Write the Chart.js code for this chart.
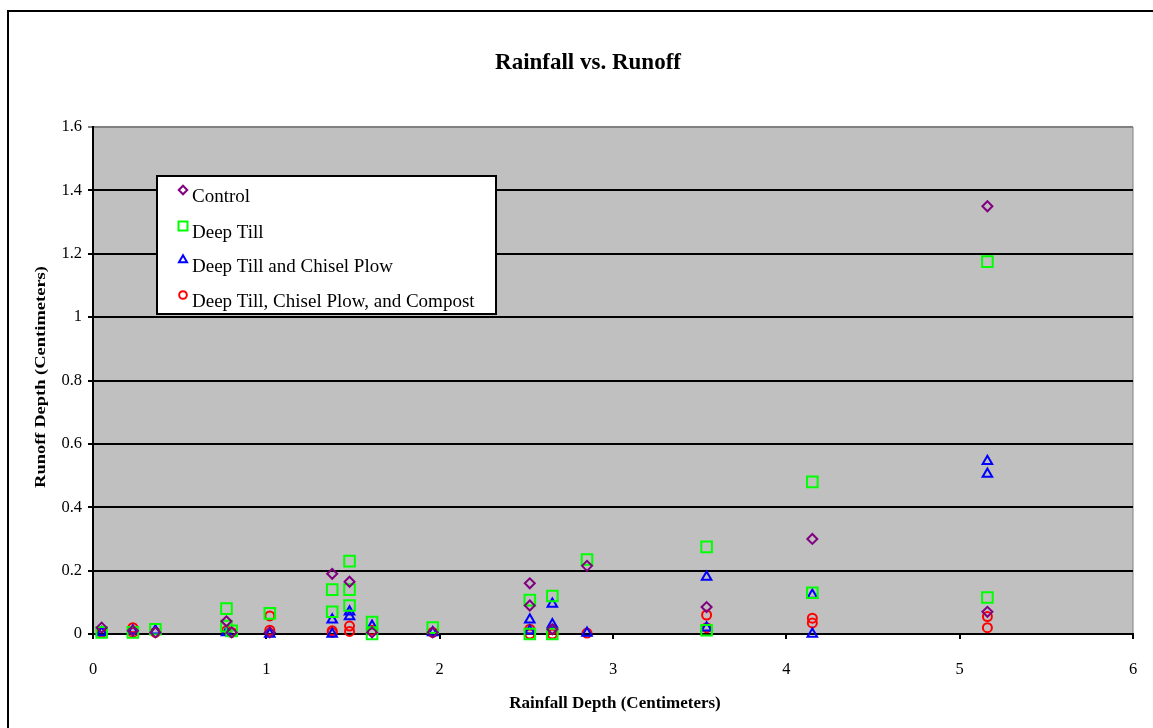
<!DOCTYPE html>
<html>
<head>
<meta charset="utf-8">
<script src="https://cdn.jsdelivr.net/npm/chart.js@4.4.1/dist/chart.umd.min.js"></script>
<style>
  html, body { margin: 0; padding: 0; background: #fff; }
  #wrap { width: 1153px; height: 728px; }
</style>
</head>
<body>
<div id="wrap"><canvas id="runoffChart" width="1153" height="728"></canvas></div>
<script>
// values (rainfall cm, runoff cm)
var controlRain = [0.05, 0.23, 0.36, 0.77, 0.8, 1.02, 1.38, 1.48, 1.61, 1.96, 2.52, 2.52, 2.65, 2.85, 3.54, 4.15, 5.16, 5.16];
var controlRunoff = [0.02, 0.01, 0.005, 0.04, 0.005, 0.005, 0.19, 0.165, 0.005, 0.005, 0.16, 0.09, 0.015, 0.215, 0.085, 0.30, 1.35, 0.07];

var deepTillRain = [0.05, 0.23, 0.36, 0.77, 0.77, 0.8, 1.02, 1.38, 1.38, 1.48, 1.48, 1.48, 1.61, 1.61, 1.96, 2.52, 2.52, 2.65, 2.65, 2.85, 3.54, 3.54, 4.15, 4.15, 5.16, 5.16];
var deepTillRunoff = [0.005, 0.005, 0.015, 0.08, 0.025, 0.01, 0.065, 0.14, 0.07, 0.23, 0.14, 0.09, 0.038, 0, 0.02, 0.107, 0, 0.12, 0, 0.235, 0.275, 0.012, 0.48, 0.13, 1.175, 0.115];

var chiselRain = [0.05, 0.23, 0.36, 0.77, 1.02, 1.38, 1.38, 1.48, 1.48, 1.61, 1.96, 2.52, 2.52, 2.65, 2.65, 2.85, 3.54, 3.54, 4.15, 4.15, 5.16, 5.16];
var chiselRunoff = [0.005, 0.01, 0.01, 0.005, 0, 0.045, 0, 0.07, 0.055, 0.025, 0.005, 0.045, 0.01, 0.095, 0.03, 0.003, 0.18, 0.02, 0.123, 0, 0.545, 0.505];

var compostRain = [0.05, 0.23, 0.23, 0.36, 0.77, 0.8, 1.02, 1.02, 1.38, 1.38, 1.48, 1.48, 1.61, 1.96, 2.52, 2.52, 2.65, 2.65, 2.85, 3.54, 3.54, 4.15, 4.15, 5.16, 5.16];
var compostRunoff = [0.005, 0.02, 0.005, 0.005, 0.01, 0.005, 0.057, 0.012, 0.01, 0.005, 0.025, 0.008, 0.012, 0.005, 0.015, 0, 0.015, 0, 0.003, 0.06, 0.02, 0.05, 0.035, 0.055, 0.02];

var seriesNames = ['Control', 'Deep Till', 'Deep Till and Chisel Plow', 'Deep Till, Chisel Plow, and Compost'];
var seriesColors = ['#800080', '#00ff00', '#0000ff', '#ff0000'];
var seriesShapes = ['rectRot', 'rect', 'triangle', 'circle'];
var seriesRadius = [5, 7.5, 5.5, 4.5];

var yTicks = [0, 0.2, 0.4, 0.6, 0.8, 1, 1.2, 1.4, 1.6];
var xTicks = [0, 1, 2, 3, 4, 5, 6];

var serif = '"Liberation Serif", "Times New Roman", serif';

function toPoints(xs, ys) {
    var pts = [];
    for (var i = 0; i < xs.length; i++) {
        pts.push({x: xs[i], y: ys[i]});
    }
    return pts;
}

var allRain = [controlRain, deepTillRain, chiselRain, compostRain];
var allRunoff = [controlRunoff, deepTillRunoff, chiselRunoff, compostRunoff];

var datasets = [];
for (var s = 0; s < seriesNames.length; s++) {
    datasets.push({
        label: seriesNames[s],
        data: toPoints(allRain[s], allRunoff[s]),
        pointStyle: seriesShapes[s],
        pointRadius: seriesRadius[s],
        pointHoverRadius: seriesRadius[s],
        borderColor: seriesColors[s],
        backgroundColor: 'rgba(0,0,0,0)',
        pointBorderWidth: 2,
        clip: false
    });
}

var frame = {
    id: 'frame',
    beforeDraw: function (chart) {
        var ctx = chart.ctx;
        var a = chart.chartArea;
        ctx.save();
        ctx.fillStyle = '#fff';
        ctx.fillRect(0, 0, chart.width, chart.height);
        ctx.strokeStyle = '#000';
        ctx.lineWidth = 2;
        ctx.strokeRect(8, 11, 1200, 800);
        ctx.fillStyle = '#c0c0c0';
        ctx.fillRect(a.left, a.top, a.right - a.left, a.bottom - a.top);
        ctx.strokeStyle = '#808080';
        ctx.lineWidth = 1;
        ctx.strokeRect(a.left, a.top + 0.5, a.right - a.left, a.bottom - a.top);
        ctx.restore();
    },
    afterDraw: function (chart) {
        var ctx = chart.ctx;
        ctx.save();
        ctx.fillStyle = '#000';
        ctx.textAlign = 'center';
        ctx.textBaseline = 'middle';
        ctx.font = 'bold 23px ' + serif;
        ctx.fillText('Rainfall vs. Runoff', 588, 63);
        ctx.font = 'bold 17px ' + serif;
        ctx.fillText('Rainfall Depth (Centimeters)', 615, 704);

        // squashed y title like the original
        ctx.save();
        ctx.translate(41, 377);
        ctx.rotate(-Math.PI / 2);
        ctx.scale(1, 0.8);
        ctx.font = 'bold 18.5px ' + serif;
        ctx.fillText('Runoff Depth (Centimeters)', 0, 0);
        ctx.restore();

        // legend box
        ctx.fillStyle = '#fff';
        ctx.fillRect(156, 175, 341, 140);
        ctx.strokeStyle = '#000';
        ctx.lineWidth = 2;
        ctx.strokeRect(157, 176, 339, 138);
        var rows = [197, 233, 267, 302];
        ctx.textAlign = 'left';
        ctx.font = '19px ' + serif;
        for (var i = 0; i < seriesNames.length; i++) {
            ctx.strokeStyle = seriesColors[i];
            ctx.fillStyle = 'rgba(0,0,0,0)';
            ctx.lineWidth = 2;
            Chart.helpers.drawPoint(ctx, {
                pointStyle: seriesShapes[i],
                radius: seriesRadius[i] * 0.85,
                borderWidth: 2,
                rotation: 0
            }, 183, rows[i] - 7);
            ctx.fillStyle = '#000';
            ctx.fillText(seriesNames[i], 192, rows[i]);
        }
        ctx.restore();
    }
};

new Chart(document.getElementById('runoffChart'), {
    type: 'scatter',
    data: {datasets: datasets},
    options: {
        responsive: false,
        devicePixelRatio: 1,
        animation: false,
        events: [],
        layout: {padding: {top: 127, right: 20, left: 0, bottom: 0}},
        plugins: {
            legend: {display: false},
            tooltip: {enabled: false}
        },
        scales: {
            x: {
                type: 'linear',
                min: 0,
                max: 6,
                afterBuildTicks: function (scale) {
                    scale.ticks = xTicks.map(function (v) { return {value: v}; });
                },
                afterFit: function (scale) {
                    scale.height = 94;
                    scale.paddingLeft = 0;
                    scale.paddingRight = 0;
                },
                grid: {drawOnChartArea: false, drawTicks: true, tickLength: 5, color: '#000', lineWidth: 2},
                border: {color: '#000', width: 2},
                ticks: {color: '#000', padding: 21, maxRotation: 0, font: {family: serif, size: 16.5}}
            },
            y: {
                type: 'linear',
                min: 0,
                max: 1.6,
                afterBuildTicks: function (scale) {
                    scale.ticks = yTicks.map(function (v) { return {value: v}; });
                },
                afterFit: function (scale) {
                    scale.width = 93;
                    scale.paddingTop = 0;
                    scale.paddingBottom = 0;
                },
                grid: {
                    drawTicks: true,
                    tickLength: 5,
                    lineWidth: 2,
                    color: function (c) {
                        if (c.tick && c.tick.value === 1.6) return '#808080';
                        return '#000';
                    }
                },
                border: {color: '#000', width: 2},
                ticks: {
                    color: '#000',
                    padding: 6,
                    font: {family: serif, size: 16.5},
                    callback: function (v) { return String(Number(v.toFixed(1))); }
                }
            }
        }
    },
    plugins: [frame]
});
</script>
</body>
</html>
